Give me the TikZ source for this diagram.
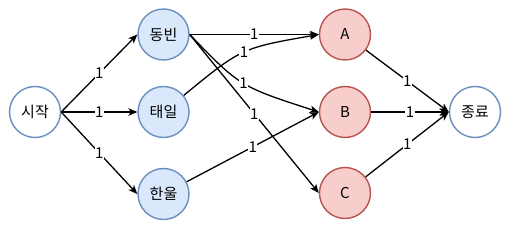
\documentclass[tikz,border=0pt]{standalone}
\usepackage{fontspec}
\setmainfont{Noto Sans CJK KR}
\usetikzlibrary{arrows.meta}
\definecolor{bluefill}{HTML}{DAE8FC}
\definecolor{bluedraw}{HTML}{6C8EBF}
\definecolor{redfill}{HTML}{F8CECC}
\definecolor{reddraw}{HTML}{B85450}
\tikzset{
  vnode/.style={circle, minimum size=51pt, inner sep=0pt, line width=1.4pt, font=\fontsize{15}{17}\selectfont},
  endnode/.style={vnode, draw=bluedraw, fill=white},
  bnode/.style={vnode, draw=bluedraw, fill=bluefill},
  rnode/.style={vnode, draw=reddraw, fill=redfill},
  edge/.style={line width=1.3pt, -{Stealth[length=9pt,width=7.5pt,inset=2.5pt]}},
  wlabel/.style={fill=white, inner sep=0.5pt, font=\fontsize{15}{17}\selectfont}
}
\begin{document}
\begin{tikzpicture}[x=1pt,y=-1pt]
\useasboundingbox (0,0) rectangle (512,230);
\node[endnode] (start) at (35,112) {시작};
\node[bnode] (dongbin) at (163.5,34.5) {동빈};
\node[bnode] (taeil) at (163.5,112) {태일};
\node[bnode] (hanul) at (163.5,194) {한울};
\node[rnode] (A) at (345,34.5) {A};
\node[rnode] (B) at (345,112) {B};
\node[rnode] (C) at (345,193) {C};
\node[endnode] (end) at (475,112) {종료};
\coordinate (cDB) at (240,86.5);
\coordinate (cTA) at (241.5,48);
\draw[edge] (start.east) -- node[wlabel] {1} (dongbin.west);
\draw[edge] (start.east) -- node[wlabel] {1} (taeil.west);
\draw[edge] (start.east) -- node[wlabel] {1} (hanul.west);
\draw[edge] (dongbin.east) -- node[wlabel] {1} (A.west);
\draw[edge] (dongbin.east) .. controls (cDB) .. node[wlabel] {1} (B.west);
\draw[edge] (dongbin.east) -- node[wlabel] {1} (C.west);
\draw[edge] (taeil) .. controls (cTA) .. node[wlabel] {1} (A.west);
\draw[edge] (hanul) -- node[wlabel] {1} (B.west);
\draw[edge] (A) -- node[wlabel] {1} (end.west);
\draw[edge] (B) -- node[wlabel] {1} (end.west);
\draw[edge] (C) -- node[wlabel] {1} (end.west);
\end{tikzpicture}
\end{document}
